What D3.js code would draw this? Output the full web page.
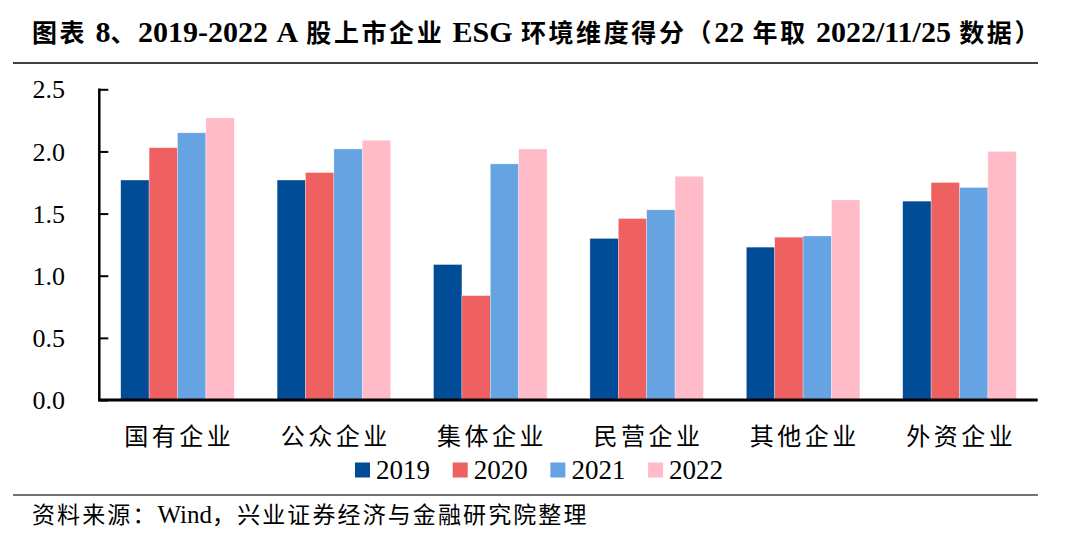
<!DOCTYPE html>
<html><head><meta charset="utf-8">
<script src="https://cdn.jsdelivr.net/npm/d3@7"></script>
<style>body{margin:0;background:#fff}svg{display:block}</style>
</head><body>
<svg id="c" width="1080" height="540"></svg>
<script>
const categories = ["国有企业","公众企业","集体企业","民营企业","其他企业","外资企业"];
const years = ["2019","2020","2021","2022"];
const s2019 = [1.77,1.77,1.09,1.30,1.23,1.60];
const s2020 = [2.03,1.83,0.84,1.46,1.31,1.75];
const s2021 = [2.15,2.02,1.90,1.53,1.32,1.71];
const s2022 = [2.27,2.09,2.02,1.80,1.61,2.00];
const yTicks = [0,0.5,1.0,1.5,2.0,2.5];
const colors = ["#004C97","#EF6161","#66A3E3","#FFBBC7"];
const titleText = "图表 8、2019-2022 A 股上市企业 ESG 环境维度得分（22 年取 2022/11/25 数据）";
const sourceText = "资料来源：Wind，兴业证券经济与金融研究院整理";

const series = [s2019,s2020,s2021,s2022];
const svg = d3.select("#c");
const LAT = "'Liberation Serif','Times New Roman',serif";
const CJK = "'Noto Sans CJK SC',sans-serif";

// mixed-font text helper
function mixedText(g, str, latSize, cjkSize, weight, ls){
  const runs = [];
  for (const ch of str){
    const lat = /[A-Za-z0-9\/\-\.]/.test(ch);
    if (runs.length && runs[runs.length-1].lat===lat) runs[runs.length-1].t += ch;
    else runs.push({lat, t: ch});
  }
  g.selectAll("tspan").data(runs).join("tspan")
    .attr("font-family", d=>d.lat?LAT:CJK)
    .attr("font-size", d=>d.lat?latSize:cjkSize)
    .attr("font-weight", weight)
    .attr("letter-spacing", d=>d.lat?0:ls)
    .text(d=>d.t);
}

// title
const t = svg.append("text").attr("x",32).attr("y",42).attr("fill","#000").attr("xml:space","preserve");
mixedText(t, titleText, 30, 25, "bold", 2.6);

svg.append("line").attr("x1",13).attr("x2",1038).attr("y1",63).attr("y2",63).attr("stroke","#000").attr("stroke-width",1.5);
svg.append("line").attr("x1",13).attr("x2",1038).attr("y1",495).attr("y2",495).attr("stroke","#444").attr("stroke-width",1.5);

const x0 = d3.scaleBand().domain(categories).range([99.3,1037.7]).paddingInner(0.274).paddingOuter(0.137);
const x1 = d3.scaleBand().domain(years).range([0,x0.bandwidth()]);
const y = d3.scaleLinear().domain([0,2.5]).range([400,89.3]);

const groups = svg.append("g").selectAll("g").data(categories).join("g")
  .attr("transform", d=>`translate(${x0(d)},0)`);
groups.selectAll("rect").data((d,i)=>years.map((yr,j)=>({yr, v: series[j][i], j})))
  .join("rect")
  .attr("x", d=>x1(d.yr)).attr("width", x1.bandwidth())
  .attr("y", d=>y(d.v)).attr("height", d=>y(0)-y(d.v))
  .attr("fill", d=>colors[d.j]).attr("stroke","#fff").attr("stroke-width",0.6).attr("stroke-opacity",0.5);

// y axis
const yAxis = svg.append("g").attr("transform","translate(99.3,0)")
  .call(d3.axisRight(y).tickValues(yTicks).tickSize(9).tickFormat(""));
yAxis.select(".domain").remove();
yAxis.selectAll(".tick line").attr("stroke","#000").attr("stroke-width",2);
svg.append("line").attr("x1",99.3).attr("x2",99.3).attr("y1",88.5).attr("y2",401).attr("stroke","#000").attr("stroke-width",2.5);
svg.append("g").selectAll("text").data(yTicks).join("text")
  .attr("x",65).attr("y",d=>y(d)).attr("dy","0.35em").attr("text-anchor","end")
  .attr("font-family",LAT).attr("font-size",26).attr("fill","#000")
  .text(d=>d3.format(".1f")(d));

// x axis
const xAxis = svg.append("g").attr("transform","translate(0,400)")
  .call(d3.axisBottom(x0).tickSize(0).tickFormat(""));
xAxis.select(".domain").attr("stroke","#000").attr("stroke-width",3).attr("d","M98,0H1037.7");

svg.append("g").selectAll("text").data(categories).join("text")
  .attr("x",d=>x0(d)+x0.bandwidth()/2+1.75).attr("y",445).attr("text-anchor","middle")
  .attr("font-family",CJK).attr("font-size",24).attr("letter-spacing",3.5).attr("fill","#000")
  .text(d=>d);

// legend
const leg = svg.append("g").selectAll("g").data(years).join("g")
  .attr("transform",(d,i)=>`translate(${355+i*97.7},0)`);
leg.append("rect").attr("x",0).attr("y",462.5).attr("width",15).attr("height",15).attr("fill",(d,i)=>colors[i]);
leg.append("text").attr("x",21).attr("y",479).attr("font-family",LAT).attr("font-size",27).attr("fill","#000").text(d=>d);

// source
const s = svg.append("text").attr("x",32).attr("y",523).attr("fill","#000");
mixedText(s, sourceText, 25, 23, "normal", 2.1);
</script>
</body></html>
